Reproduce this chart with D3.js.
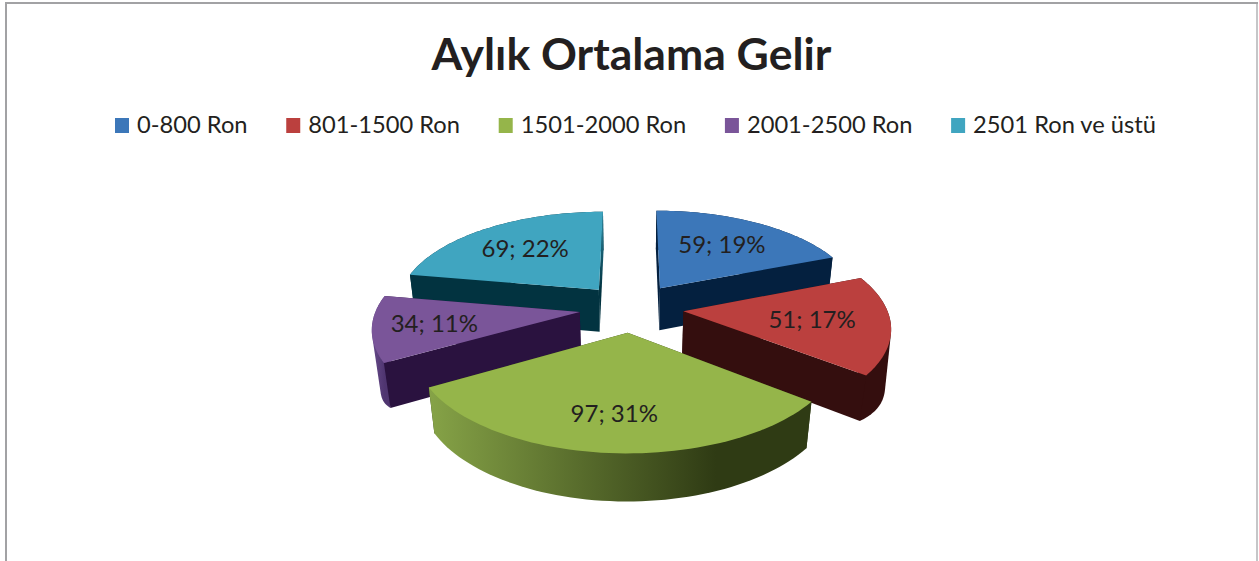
<!DOCTYPE html>
<html>
<head>
<meta charset="utf-8">
<script src="https://cdn.jsdelivr.net/npm/d3@7"></script>
<style>
  html, body { margin: 0; background: #fff; }
  text { font-family: Lato, "Open Sans", sans-serif; fill: #231f20; }
</style>
</head>
<body>
<div id="chart"></div>
<script>
// chart data
var title = 'Aylık Ortalama Gelir';
var categories = ['0-800 Ron', '801-1500 Ron', '1501-2000 Ron', '2001-2500 Ron', '2501 Ron ve üstü'];
var values = [59, 51, 97, 34, 69];
var percents = ['19%', '17%', '31%', '11%', '22%'];

// colours per slice
var topColors  = ['#3c77b9', '#bb403e', '#95b54a', '#7a5599', '#40a5c0'];
var wallColors = ['#04203f', '#340e0e', '#2f3b14', '#2a123f', '#023340'];
var arcStops = [
    ['#04203f', '#04203f'],
    ['#340e0e', '#340e0e'],
    ['#86a347', '#2f3b14'],
    ['#674a8a', '#4f3570'],
    ['#023340', '#023340']
];
// where the rim gradient reaches its dark end
var arcEnd = [1, 1, 0.75, 1, 1];
// the closing wall of the last slice shows as a lighter sliver
var endWallTop = [null, null, null, null, '#2f8ba5'];
// label distance from the slice tip, in radii
var labelRadius = [0.63, 0.63, 0.71, 0.70, 0.63];
// side slices have a deeper rim in the reference
var rimBulge = [0, 0.3, 0, 0.3, 0];
var rimFlare = [0, 0.012, 0, 0, 0];

var width = 1259, height = 561;

// projection of the tilted pie
var cx = 631.5, cy = 307.7, R = 203, Ry = 94.4, persp = 0.148;
var explode = 0.257, wallH = 44, wallPersp = 0.025;

function project(u, v, z){
    var w = 1 - persp * v + wallPersp * z;
    return [cx + R * u / w, cy + (Ry * v + wallH * z) / w];
}

function main(){
    var svg = d3.select('#chart').append('svg')
                .attr('width', width)
                .attr('height', height)
                .style('display', 'block');

    // chart frame, open at the bottom
    svg.append('path')
       .attr('d', 'M1257,3V' + height)
       .attr('fill', 'none')
       .attr('stroke', '#c6c6c8')
       .attr('stroke-width', 2);
    svg.append('path')
       .attr('d', 'M6,' + height + 'V3H1258')
       .attr('fill', 'none')
       .attr('stroke', '#a2a2a4')
       .attr('stroke-width', 2);

    svg.append('text')
       .attr('x', 631.5)
       .attr('y', 70)
       .attr('text-anchor', 'middle')
       .style('font-size', '44.5px')
       .style('font-weight', 700)
       .text(title);

    // legend
    var legendX = 115;
    categories.forEach(function(name, i){
        svg.append('rect')
           .attr('x', legendX)
           .attr('y', 118)
           .attr('width', 14)
           .attr('height', 15)
           .attr('fill', topColors[i]);
        var t = svg.append('text')
                   .attr('x', legendX + 22)
                   .attr('y', 133)
                   .style('font-size', '23.7px')
                   .text(name);
        legendX += 22 + t.node().getComputedTextLength() + 38.7;
    });

    // slices
    var pie = d3.pie().sort(null).value(function(d){ return d; })(values);
    var line = d3.line();
    var defs = svg.append('defs');

    var slices = pie.map(function(d, i){
        var mid = (d.startAngle + d.endAngle) / 2;
        return {
            i: i, d: d, mid: mid,
            ox: explode * Math.sin(mid),
            oy: -explode * Math.cos(mid)
        };
    });

    // far slices first, nearest slice on top
    slices.sort(function(a, b){ return a.oy - b.oy; });

    slices.forEach(function(s){
        var g = svg.append('g');
        var tip = { top: [s.ox, s.oy, 0], low: [s.ox, s.oy, 1] };
        var rim = d3.range(0, 61).map(function(k){
            var a = s.d.startAngle + (s.d.endAngle - s.d.startAngle) * k / 60;
            var hump = Math.sin(Math.PI * k / 60);
            var r = 1 + rimFlare[s.i] * hump;
            return {
                top: [s.ox + Math.sin(a), s.oy - Math.cos(a), 0],
                low: [s.ox + r * Math.sin(a), s.oy - r * Math.cos(a), 1 + rimBulge[s.i] * hump]
            };
        });
        var tops = function(p){ return project.apply(null, p.top); };
        var lows = function(p){ return project.apply(null, p.low); };

        function addGrad(id, x1, y1, x2, y2, c1, c2, end){
            var grad = defs.append('linearGradient')
                           .attr('id', id)
                           .attr('gradientUnits', 'userSpaceOnUse')
                           .attr('x1', x1).attr('x2', x2)
                           .attr('y1', y1).attr('y2', y2);
            grad.append('stop').attr('offset', 0).attr('stop-color', c1);
            grad.append('stop').attr('offset', end).attr('stop-color', c2);
            return 'url(#' + id + ')';
        }

        // wall quads, back to front
        var walls = [
            { pts: [tip, rim[0]], fill: wallColors[s.i] },
            { pts: [tip, rim[60]], fill: wallColors[s.i], end: true },
            { pts: rim, fill: null }
        ];
        walls.forEach(function(w){
            w.depth = d3.mean(w.pts, function(p){ return p.top[1]; });
        });
        walls.sort(function(a, b){ return a.depth - b.depth; });

        walls.forEach(function(w){
            // the hull gives the true outline where the rim edges cross
            var poly = d3.polygonHull(w.pts.map(tops).concat(w.pts.map(lows)));
            var fill = w.fill;
            if(!fill){
                var xs = w.pts.map(tops).map(function(p){ return p[0]; });
                fill = addGrad('arc' + s.i, d3.min(xs), 0, d3.max(xs), 0, arcStops[s.i][0], arcStops[s.i][1], arcEnd[s.i]);
            } else if(w.end && endWallTop[s.i]){
                fill = addGrad('end' + s.i, 0, tops(rim[60])[1], 0, tops(tip)[1], endWallTop[s.i], wallColors[s.i], 1);
            }
            g.append('path')
             .attr('d', line(poly) + 'Z')
             .attr('fill', fill);
        });

        // top face
        g.append('path')
         .attr('d', line([tip].concat(rim).map(tops)) + 'Z')
         .attr('fill', topColors[s.i]);
    });

    // data labels
    pie.forEach(function(d, i){
        var mid = (d.startAngle + d.endAngle) / 2;
        var r = labelRadius[i] + explode;
        var p = project(r * Math.sin(mid), -r * Math.cos(mid), 0);
        svg.append('text')
           .attr('x', p[0] - 1)
           .attr('y', p[1] + 8)
           .attr('text-anchor', 'middle')
           .style('font-size', '24px')
           .text(values[i] + '; ' + percents[i]);
    });
}

main();
</script>
</body>
</html>
